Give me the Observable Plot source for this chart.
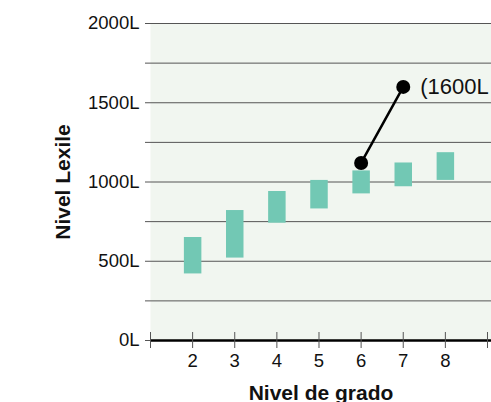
<!DOCTYPE html>
<html>
<head>
<meta charset="utf-8">
<script src="https://cdn.jsdelivr.net/npm/d3@7"></script>
<script src="https://cdn.jsdelivr.net/npm/@observablehq/plot@0.6"></script>
<style>
  html, body { margin: 0; padding: 0; background: #ffffff; overflow: hidden; }
</style>
</head>
<body>
<div id="chart"></div>
<script>
// ---- data ----
const grades = [2, 3, 4, 5, 6, 7, 8];
const lowValues = [420, 520, 740, 830, 925, 970, 1010];
const highValues = [650, 820, 940, 1010, 1070, 1120, 1185];
const pointGrades = [6, 7];
const pointValues = [1120, 1600];
const pointLabel = "(1600L";
const yTickValues = [0, 500, 1000, 1500, 2000];
const gridValues = [0, 250, 500, 750, 1000, 1250, 1500, 1750, 2000];
const xTickValues = [1, 2, 3, 4, 5, 6, 7, 8, 9];
const xTickLabels = ["", "2", "3", "4", "5", "6", "7", "8", ""];
const xTitle = "Nivel de grado";
const yTitle = "Nivel Lexile";

const bands = grades.map((g, i) => ({grade: g, low: lowValues[i], high: highValues[i]}));
const points = pointGrades.map((g, i) => ({grade: g, value: pointValues[i]}));
const labelRow = [{grade: pointGrades[1], value: pointValues[1], text: pointLabel}];

const font = "'Liberation Sans', Arial, Helvetica, sans-serif";

const chart = Plot.plot({
  width: 491,
  height: 402,
  marginTop: 23,
  marginBottom: 62,
  marginLeft: 150,
  marginRight: 0,
  style: {fontFamily: font, background: "#ffffff", color: "#111"},
  x: {type: "linear", domain: [1, 9.095]},
  y: {type: "linear", domain: [0, 2000]},
  marks: [
    Plot.frame({fill: "#f1f6f0", stroke: "none"}),
    Plot.ruleY(gridValues, {y: d => d, stroke: "#555", strokeWidth: 1, insetLeft: -5}),
    Plot.ruleY([0], {y: d => d, stroke: "#000", strokeWidth: 2.5}),
    Plot.ruleX(xTickValues, {x: d => d, y1: 0, y2: 0, insetTop: -8, insetBottom: -8, stroke: "#555", strokeWidth: 1}),
    Plot.axisY(yTickValues, {tickSize: 0, tickPadding: 11, tickFormat: d => d + "L", fontSize: 18.5, label: null, fill: "#111"}),
    Plot.axisX(xTickValues, {tickSize: 0, tickPadding: 13, tickFormat: d => xTickLabels[xTickValues.indexOf(d)], fontSize: 18.5, label: null, fill: "#111"}),
    Plot.ruleX(bands, {x: "grade", y1: "low", y2: "high", stroke: "#72c8b4", strokeWidth: 17.5}),
    Plot.line(points, {x: "grade", y: "value", stroke: "#000", strokeWidth: 2.5}),
    Plot.dot(points, {x: "grade", y: "value", r: 7, fill: "#000", stroke: "none"}),
    Plot.text(labelRow, {x: "grade", y: "value", text: "text", textAnchor: "start", dx: 17, fontSize: 22, fill: "#111", lineAnchor: "middle"}),
    Plot.text([xTitle], {frameAnchor: "bottom", text: d => d, dy: 53, fontSize: 21, fontWeight: "bold", fill: "#111", textAnchor: "middle", lineAnchor: "middle"}),
    Plot.text([yTitle], {frameAnchor: "left", text: d => d, rotate: -90, dx: -87.5, fontSize: 21, fontWeight: "bold", fill: "#111", textAnchor: "middle", lineAnchor: "middle"})
  ]
});
document.getElementById("chart").appendChild(chart);
</script>
</body>
</html>
